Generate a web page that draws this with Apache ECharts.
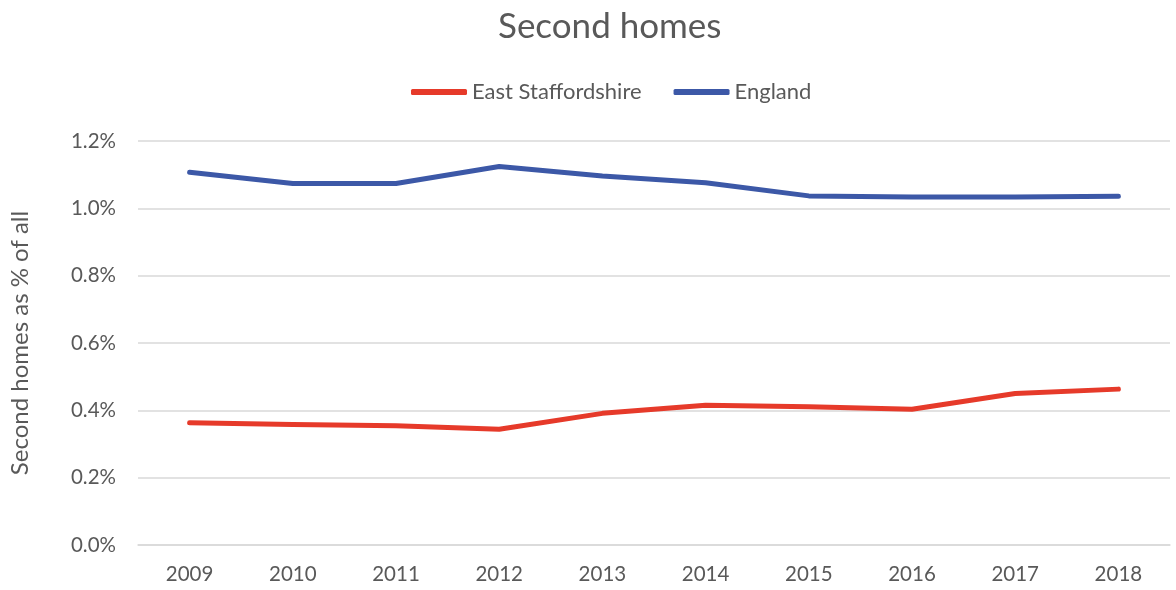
<!DOCTYPE html>
<html>
<head>
<meta charset="utf-8">
<script src="https://cdn.jsdelivr.net/npm/echarts@6/dist/echarts.min.js"></script>
<style>
html, body { margin: 0; padding: 0; background: #fff; }
#main { width: 1176px; height: 590px; }
</style>
</head>
<body>
<div id="main"></div>
<script>
// data
var years = ['2009', '2010', '2011', '2012', '2013', '2014', '2015', '2016', '2017', '2018'];
var eastStaffs = [0.363, 0.358, 0.354, 0.344, 0.391, 0.415, 0.411, 0.403, 0.450, 0.463];
var england = [1.107, 1.074, 1.074, 1.124, 1.096, 1.076, 1.037, 1.034, 1.034, 1.036];

var myChart = echarts.init(document.getElementById('main'));
var textColor = '#595959';
var font = 'Lato, "Open Sans", sans-serif';

var option = {
	animation: false,
	title: {
		text: 'Second homes',
		left: 493,
		top: 4,
		textStyle: { fontFamily: font, fontSize: 35, fontWeight: 'normal', color: textColor }
	},
	legend: {
		top: 76,
		left: 406,
		itemWidth: 56,
		itemHeight: 6,
		itemGap: 32,
		icon: 'roundRect',
		textStyle: { fontFamily: font, fontSize: 22, color: textColor },
		data: ['East Staffordshire', 'England']
	},
	grid: { left: 138, right: 6, top: 141, bottom: 45 },
	xAxis: {
		type: 'category',
		data: years,
		boundaryGap: true,
		axisLine: { lineStyle: { color: '#d9d9d9', width: 1.5 } },
		axisTick: { show: false },
		axisLabel: { fontFamily: font, fontSize: 20.5, color: textColor, margin: 19 }
	},
	yAxis: {
		type: 'value',
		min: 0,
		max: 1.2,
		interval: 0.2,
		name: 'Second homes as % of all',
		nameLocation: 'middle',
		nameGap: 106,
		nameTextStyle: { fontFamily: font, fontSize: 24, color: textColor },
		axisLine: { show: false },
		axisTick: { show: false },
		axisLabel: {
			fontFamily: font, fontSize: 20.5, color: textColor, margin: 22,
			formatter: function (v) { return v.toFixed(1) + '%'; }
		},
		splitLine: { lineStyle: { color: '#d9d9d9', width: 1.5 } }
	},
	series: [
		{
			name: 'East Staffordshire',
			type: 'line',
			data: eastStaffs,
			symbol: 'none',
			color: '#e63a2a',
			lineStyle: { width: 5, cap: 'round', join: 'round' }
		},
		{
			name: 'England',
			type: 'line',
			data: england,
			symbol: 'none',
			color: '#3c58a7',
			lineStyle: { width: 5, cap: 'round', join: 'round' }
		}
	]
};
myChart.setOption(option);
</script>
</body>
</html>
